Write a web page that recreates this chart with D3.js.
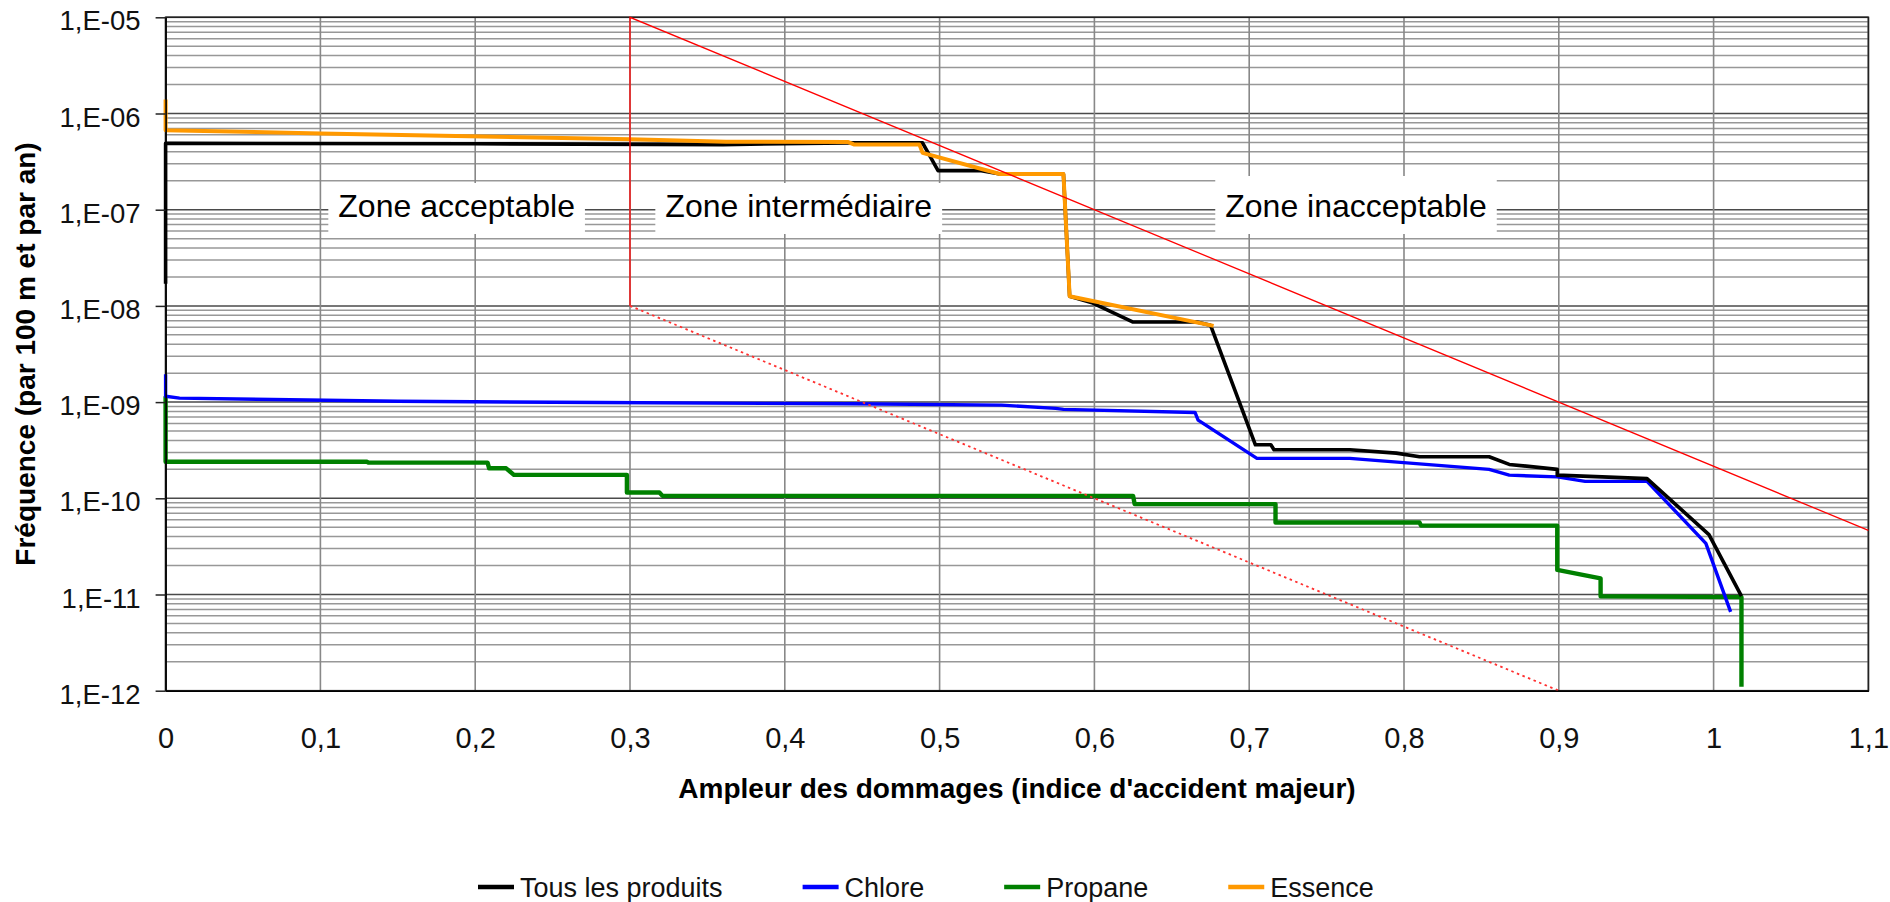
<!DOCTYPE html>
<html>
<head>
<meta charset="utf-8">
<script src="https://cdn.jsdelivr.net/npm/d3@7/dist/d3.min.js"></script>
<style>
  body { margin: 0; background: #fff; }
  text { font-family: "Liberation Sans", Arial, sans-serif; }
</style>
</head>
<body>
<svg id="chart" width="1890" height="902"></svg>
<script>
// ticks
var xTicks = [0, 0.1, 0.2, 0.3, 0.4, 0.5, 0.6, 0.7, 0.8, 0.9, 1, 1.1];
var yTicks = [1e-5, 1e-6, 1e-7, 1e-8, 1e-9, 1e-10, 1e-11, 1e-12];

// series [indice, frequence]
var tousProduits = [
  [0, 1.7e-8], [0, 4.9e-7], [0.2, 4.85e-7], [0.36, 4.75e-7], [0.44, 4.95e-7],
  [0.489, 4.95e-7], [0.499, 2.55e-7], [0.526, 2.55e-7], [0.539, 2.35e-7],
  [0.58, 2.35e-7], [0.584, 1.26e-8], [0.599, 1.07e-8], [0.625, 6.8e-9],
  [0.666, 6.8e-9], [0.675, 6.3e-9], [0.704, 3.6e-10], [0.714, 3.6e-10],
  [0.716, 3.2e-10], [0.765, 3.2e-10], [0.795, 2.95e-10], [0.81, 2.7e-10],
  [0.855, 2.7e-10], [0.868, 2.25e-10], [0.899, 2.0e-10], [0.899, 1.74e-10],
  [0.928, 1.67e-10], [0.957, 1.6e-10], [0.997, 4.2e-11], [1.018, 9.6e-12]
];
var chlore = [
  [0, 1.95e-9], [0, 1.15e-9], [0.009, 1.1e-9], [0.15, 1.02e-9], [0.28, 9.9e-10],
  [0.444, 9.6e-10], [0.54, 9.3e-10], [0.575, 8.6e-10], [0.58, 8.4e-10],
  [0.665, 7.8e-10], [0.667, 6.5e-10], [0.705, 2.6e-10], [0.765, 2.6e-10],
  [0.855, 2.0e-10], [0.868, 1.74e-10], [0.899, 1.67e-10], [0.917, 1.5e-10],
  [0.957, 1.5e-10], [0.995, 3.4e-11], [1.011, 6.6e-12]
];
var propane = [
  [0, 1.15e-9], [0, 2.4e-10], [0.13, 2.4e-10], [0.131, 2.35e-10], [0.208, 2.35e-10],
  [0.209, 2.05e-10], [0.22, 2.05e-10], [0.225, 1.75e-10], [0.298, 1.75e-10],
  [0.298, 1.15e-10], [0.319, 1.15e-10], [0.321, 1.06e-10], [0.625, 1.06e-10],
  [0.626, 8.7e-11], [0.717, 8.7e-11], [0.717, 5.6e-11], [0.81, 5.6e-11],
  [0.811, 5.2e-11], [0.899, 5.2e-11], [0.899, 1.8e-11], [0.927, 1.47e-11],
  [0.927, 9.6e-12], [1.018, 9.4e-12], [1.018, 1.1e-12]
];
var essence = [
  [0, 1.4e-6], [0, 6.7e-7], [0.1, 6.2e-7], [0.3, 5.4e-7], [0.362, 5.1e-7],
  [0.441, 5.05e-7], [0.445, 4.75e-7], [0.487, 4.75e-7], [0.489, 3.9e-7],
  [0.539, 2.35e-7], [0.58, 2.35e-7], [0.584, 1.26e-8], [0.677, 6.2e-9]
];

// limit lines
var limiteSup = [[0.3, 1e-8], [0.3, 1e-5], [1.1, 4.64e-11]];
var limiteInf = [[0.3, 1e-8], [0.9, 1e-12]];

var seriesNames = ["Tous les produits", "Chlore", "Propane", "Essence"];
var seriesColors = ["#000000", "#0000ff", "#008000", "#ff9900"];
var seriesWidths = [3.6, 3.4, 4.4, 4];

var zoneLabels = ["Zone acceptable", "Zone intermédiaire", "Zone inacceptable"];
var zoneX = [0.188, 0.409, 0.769];

var svg = d3.select("#chart");

var x = d3.scaleLinear().domain([0, 1.1]).range([165.6, 1868.4]);
var y = d3.scaleLog().domain([1e-12, 1e-5]).range([690.7, 17.3]);

// grid
var grid = svg.append("g");
grid.selectAll("line.minor")
  .data(y.ticks())
  .enter().append("line")
  .attr("x1", x(0)).attr("x2", x(1.1))
  .attr("y1", function(d) { return y(d); })
  .attr("y2", function(d) { return y(d); })
  .attr("stroke", function(d) {
    var m = Math.round(d / Math.pow(10, Math.floor(Math.log10(d) + 1e-9)));
    return m === 1 ? "#4a4a4a" : "#989898";
  })
  .attr("stroke-width", 1.5);

grid.selectAll("line.vert")
  .data(xTicks)
  .enter().append("line")
  .attr("x1", function(d) { return x(d); })
  .attr("x2", function(d) { return x(d); })
  .attr("y1", y(1e-5)).attr("y2", y(1e-12))
  .attr("stroke", "#888")
  .attr("stroke-width", 1.6);

// zone labels with white boxes
var zones = svg.append("g");
var boxTop = [183, 183, 176];
zoneLabels.forEach(function(lab, i) {
  var t = zones.append("text")
    .attr("x", x(zoneX[i]))
    .attr("y", 217)
    .attr("text-anchor", "middle")
    .attr("font-size", 32)
    .attr("fill", "#000")
    .text(lab);
  var bb = t.node().getBBox();
  zones.insert("rect", "text")
    .attr("x", bb.x - 10)
    .attr("width", bb.width + 20)
    .attr("y", boxTop[i])
    .attr("height", 234 - boxTop[i])
    .attr("fill", "#fff");
});

// frame
svg.append("rect")
  .attr("x", x(0)).attr("y", y(1e-5))
  .attr("width", x(1.1) - x(0)).attr("height", y(1e-12) - y(1e-5))
  .attr("fill", "none").attr("stroke", "#222").attr("stroke-width", 1.6);

var line = d3.line()
  .x(function(d) { return x(d[0]); })
  .y(function(d) { return y(d[1]); });

// series
var allSeries = [tousProduits, chlore, propane, essence];
var drawOrder = [2, 1, 0, 3];
drawOrder.forEach(function(i) {
  svg.append("path")
    .datum(allSeries[i])
    .attr("d", line)
    .attr("fill", "none")
    .attr("stroke", seriesColors[i])
    .attr("stroke-width", seriesWidths[i])
    .attr("stroke-linejoin", "round");
});

// limits
svg.append("path")
  .datum(limiteSup)
  .attr("d", line)
  .attr("fill", "none")
  .attr("stroke", "#ff0000")
  .attr("stroke-width", 1.3);

svg.append("path")
  .datum(limiteInf)
  .attr("d", line)
  .attr("fill", "none")
  .attr("stroke", "#ff3030")
  .attr("stroke-width", 1.8)
  .attr("stroke-dasharray", "2.5,3.5");

// axes
var fmtY = function(d) {
  var e = Math.round(Math.log10(d));
  return "1,E-" + String(-e).padStart(2, "0");
};
var fmtX = function(d) {
  return String(+d.toFixed(1)).replace(".", ",");
};

var yAxis = svg.append("g")
  .attr("transform", "translate(" + x(0) + ",0)")
  .call(d3.axisLeft(y).tickValues(yTicks).tickFormat(fmtY).tickSize(10).tickSizeOuter(0).tickPadding(15));
yAxis.selectAll("text").attr("font-size", 27.5).attr("fill", "#111").attr("dy", "0.46em");
yAxis.selectAll("line").attr("stroke", "#222").attr("stroke-width", 1.5);
yAxis.select(".domain").attr("stroke", "#000").attr("stroke-width", 1.6);

var xAxis = svg.append("g")
  .attr("transform", "translate(0," + y(1e-12) + ")")
  .call(d3.axisBottom(x).tickValues(xTicks).tickFormat(fmtX).tickSize(0).tickSizeOuter(0).tickPadding(37));
xAxis.selectAll("text").attr("font-size", 29).attr("fill", "#111");
xAxis.select(".domain").attr("stroke", "#000").attr("stroke-width", 1.6);
yAxis.selectAll("text").attr("font-family", "Liberation Sans, Arial, sans-serif");
xAxis.selectAll("text").attr("font-family", "Liberation Sans, Arial, sans-serif");

// titles
svg.append("text")
  .attr("x", (x(0) + x(1.1)) / 2)
  .attr("y", 798)
  .attr("text-anchor", "middle")
  .attr("font-size", 28)
  .attr("font-weight", "bold")
  .text("Ampleur des dommages (indice d'accident majeur)");

svg.append("text")
  .attr("transform", "translate(35," + ((y(1e-5) + y(1e-12)) / 2) + ") rotate(-90)")
  .attr("text-anchor", "middle")
  .attr("font-size", 28)
  .attr("font-weight", "bold")
  .text("Fréquence (par 100 m et par an)");

// legend
var legend = svg.append("g");
var lx = 478;
seriesNames.forEach(function(name, i) {
  legend.append("line")
    .attr("x1", lx).attr("x2", lx + 36)
    .attr("y1", 887).attr("y2", 887)
    .attr("stroke", seriesColors[i])
    .attr("stroke-width", 4.5);
  var t = legend.append("text")
    .attr("x", lx + 42)
    .attr("y", 897)
    .attr("font-size", 27)
    .attr("fill", "#111")
    .text(name);
  lx = lx + 42 + t.node().getComputedTextLength() + 80;
});
</script>
</body>
</html>
